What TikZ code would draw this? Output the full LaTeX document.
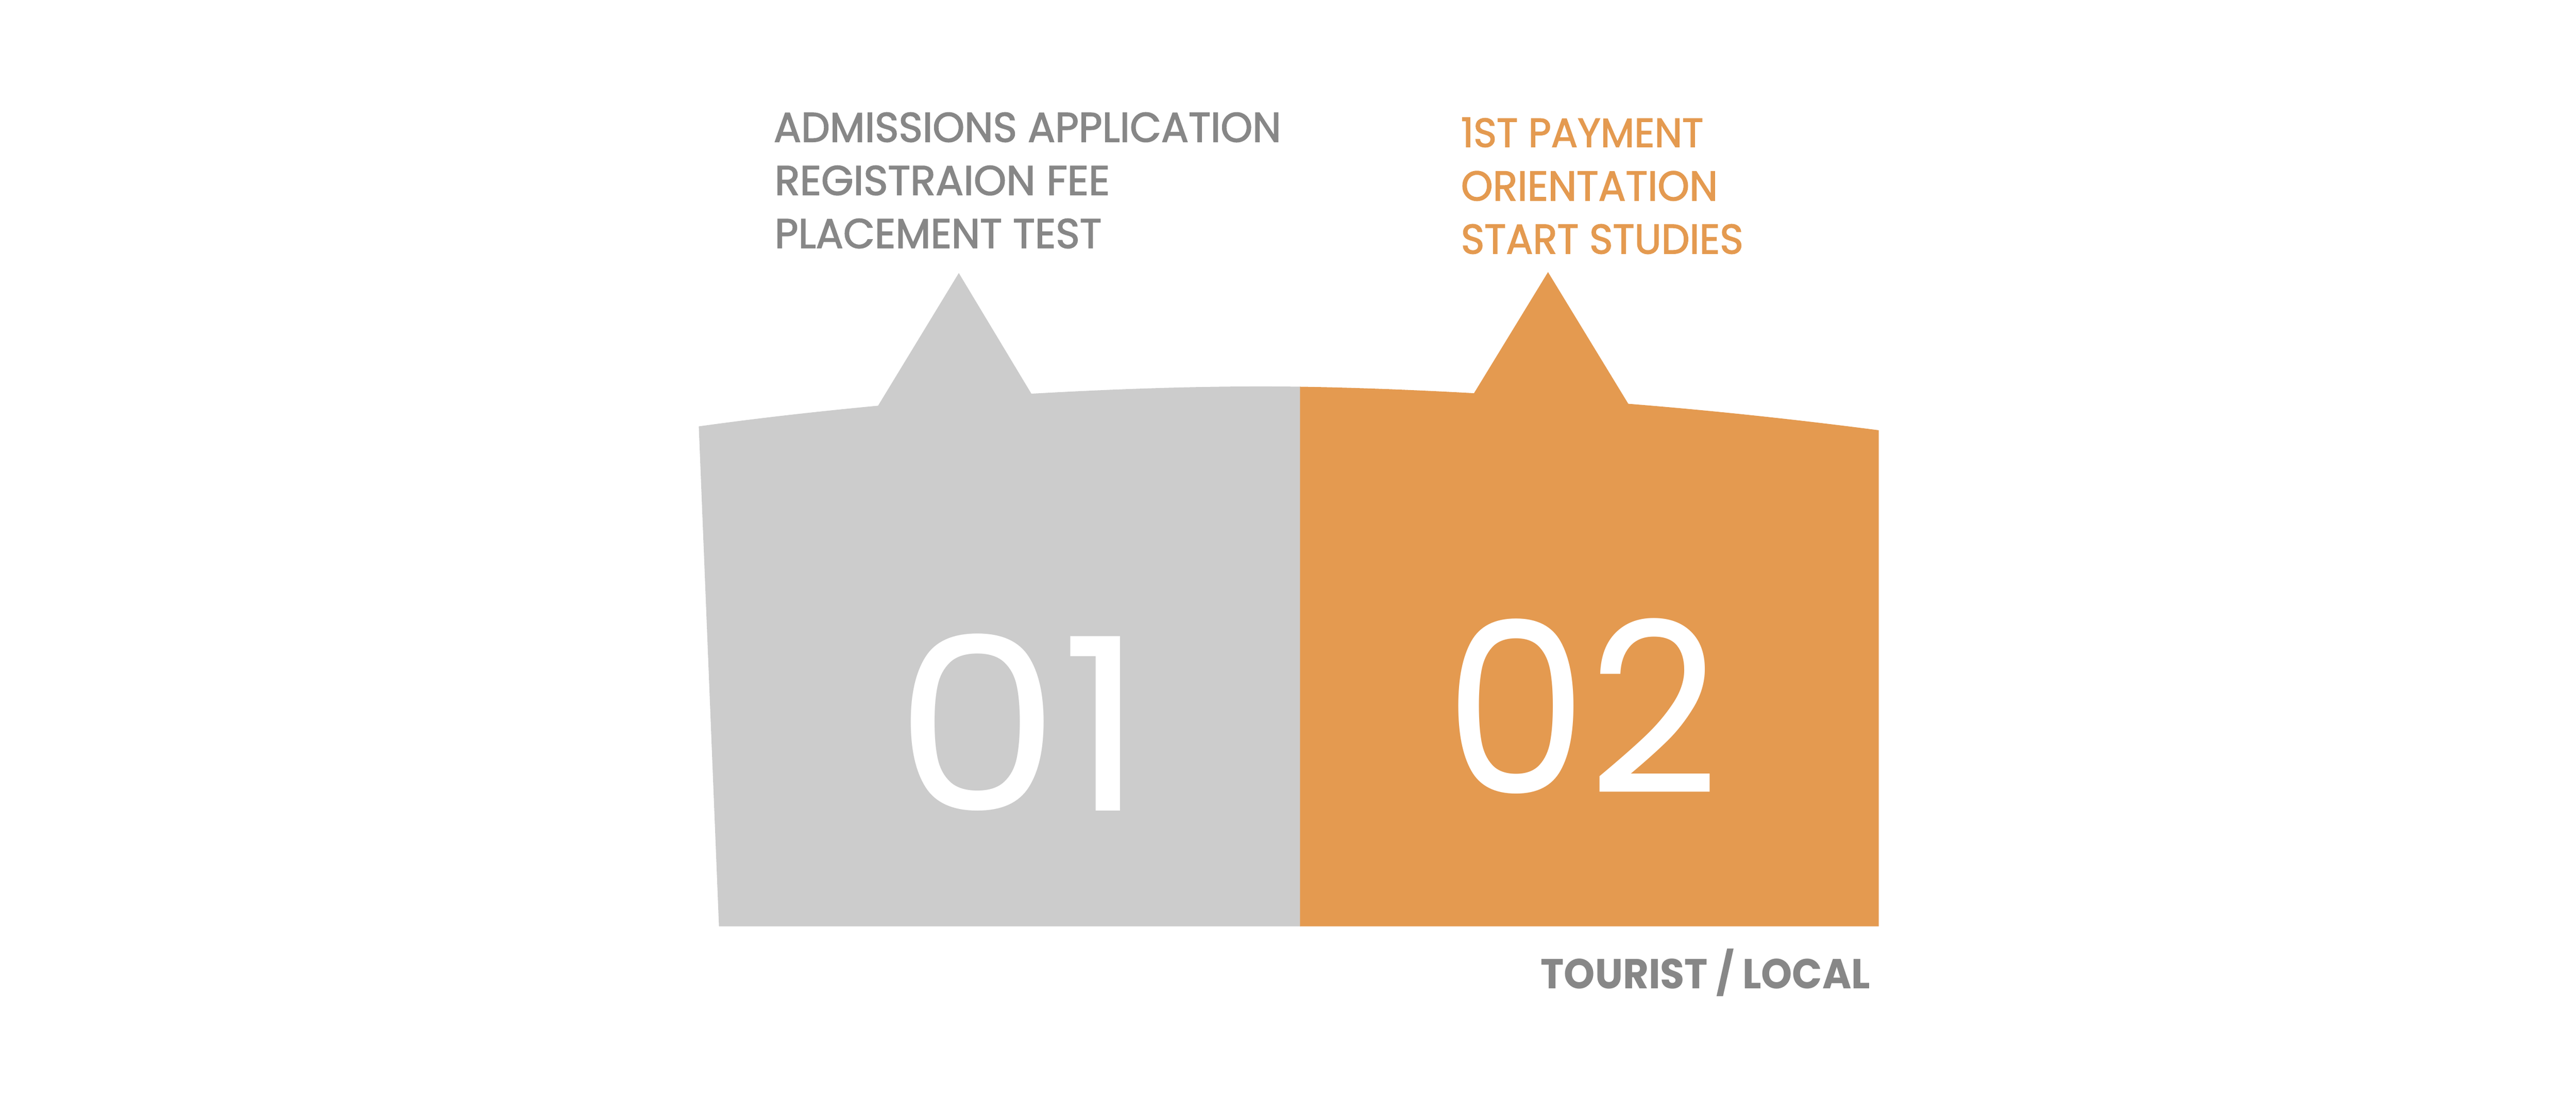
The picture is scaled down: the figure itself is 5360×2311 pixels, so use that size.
\documentclass[tikz,border=0pt]{standalone}
\usepackage{fontspec}
\setmainfont{Poppins}
\newfontfamily\medfont{Poppins}[FakeBold=2]
\usepackage{graphicx}
\definecolor{greyfill}{HTML}{CCCCCC}
\definecolor{orangefill}{HTML}{E49A50}
\definecolor{greytext}{HTML}{878787}
\newcommand\capline[2]{\resizebox{#1}{0.61cm}{\fontsize{24.8pt}{30pt}\medfont #2}}
\begin{document}
\begin{tikzpicture}[x=0.01cm,y=-0.01cm,
  txt/.style={inner sep=0pt, outer sep=0pt, anchor=base west},
  greyshape/.style={fill=greyfill},
  orangeshape/.style={fill=orangefill}]
\useasboundingbox (0,0) rectangle (5360,2311);
\fill[white] (0,0) rectangle (5360,2311);
% grey block
\path[greyshape] (1454,887) .. controls (1578.3,869.6) and (1702.7,855.8) .. (1827,844)
  -- (1995,568) -- (2146,819)
  .. controls (2332.3,808.5) and (2518.7,801.9) .. (2706,804.5)
  -- (2706,1927) -- (1496,1927) -- cycle;
% orange block
\path[orangeshape] (2705,804.5) .. controls (2825.7,806.4) and (2946.3,811.3) .. (3067,818)
  -- (3221,566) -- (3388,840)
  .. controls (3561.7,853.9) and (3735.3,872.4) .. (3909,895)
  -- (3909,1927) -- (2705,1927) -- cycle;
% grey text
\node[txt, text=greytext] (g1) at (1610,295) {\capline{10.55cm}{ADMISSIONS APPLICATION}};
\node[txt, text=greytext] (g2) at (1612,405.6) {\capline{6.97cm}{REGISTRAION FEE}};
\node[txt, text=greytext] (g3) at (1612,516) {\capline{6.8cm}{PLACEMENT TEST}};
% orange text
\node[txt, text=orangefill] (o1) at (3040,305.6) {\capline{5.04cm}{1ST PAYMENT}};
\node[txt, text=orangefill] (o2) at (3040,417) {\capline{5.34cm}{ORIENTATION}};
\node[txt, text=orangefill] (o3) at (3040,527.6) {\capline{5.87cm}{START STUDIES}};
% numbers
\node[txt, text=white] (n1) at (1862,1687) {\resizebox{5.2cm}{3.68cm}{01}};
\node[txt, text=white] (n2) at (3005,1651) {\resizebox{5.72cm}{3.65cm}{02}};
% footer
\node[txt, text=greytext] (ft) at (3206,2057) {\resizebox{6.85cm}{\height}{\fontsize{24.8pt}{30pt}\selectfont\bfseries TOURIST / LOCAL}};
\end{tikzpicture}
\end{document}
